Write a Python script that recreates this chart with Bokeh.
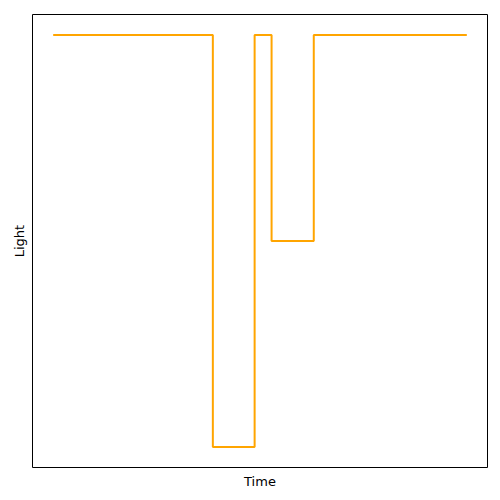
from bokeh.plotting import figure
from bokeh.models import Range1d, FixedTicker
from bokeh.embed import file_html
from bokeh.resources import INLINE

time = [0, 38.6, 48.7, 52.8, 63.0, 100]
light = [1.0, 0.0, 1.0, 0.5, 1.0, 1.0]

p = figure(width=500, height=500, output_backend="svg", toolbar_location=None,
           x_range=Range1d(-5, 105), y_range=Range1d(-0.05, 1.05),
           min_border_left=32, min_border_right=13, min_border_top=14, min_border_bottom=33)
p.step(time, light, mode="after", line_color="#FFA500", line_width=2)

p.grid.visible = False
p.outline_line_color = "black"
p.outline_line_width = 1
p.background_fill_color = "white"
p.border_fill_color = "white"

for ax in (p.xaxis[0], p.yaxis[0]):
    ax.ticker = FixedTicker(ticks=[])
    ax.major_label_text_font_size = "0px"
    ax.major_tick_line_color = None
    ax.minor_tick_line_color = None
    ax.major_tick_out = 0
    ax.major_tick_in = 0
    ax.axis_line_color = None
    ax.axis_label_text_font = "DejaVu Sans"
    ax.axis_label_text_font_size = "13px"
    ax.axis_label_text_font_style = "normal"
    ax.axis_label_text_color = "black"
    ax.major_label_standoff = 0
    ax.axis_label_standoff = 6
p.xaxis.axis_label = "Time"
p.yaxis.axis_label = "Light"

open("out.html", "w").write(file_html(p, INLINE))
